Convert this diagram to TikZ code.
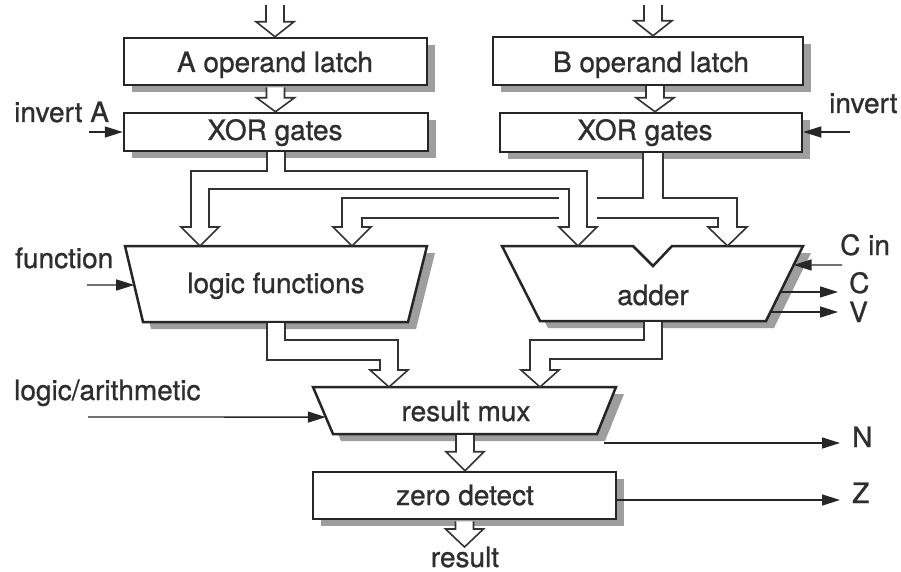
\documentclass[tikz,border=0pt]{standalone}
\usepackage{fontspec}
\setmainfont{TeX Gyre Heros}[BoldFont={TeX Gyre Heros}, BoldFeatures={FakeBold=0.9}]
\usetikzlibrary{arrows.meta,calc,shadows}
\newcommand\hconn[3]{%
  \filldraw[bus] let \p1=(#1), \p2=(#1|-#2) in
    ({\x1-9pt},{\y1-1.2pt}) -- ({\x1-9pt},{\y2+#3}) -- ({\x1-19pt},{\y2+#3}) -- (\x1,\y2)
    -- ({\x1+19pt},{\y2+#3}) -- ({\x1+9pt},{\y2+#3}) -- ({\x1+9pt},{\y1-1.2pt});}
\begin{document}
\begin{tikzpicture}[x=1pt,y=-1pt,
  shad/.style={drop shadow={shadow xshift=8pt, shadow yshift=-7pt, fill=black!38, opacity=1}},
  box/.style={draw=black!85, line width=2.5pt, fill=white, inner sep=0pt, shad},
  trap/.style={draw=black!85, line width=2.5pt, fill=white, line join=miter, shad},
  bus/.style={draw=black!80, line width=1.6pt, fill=white, line join=miter},
  sig/.style={draw=black!85, line width=1.4pt, -{Triangle[length=18pt,width=11pt]}},
  lbl/.style={font=\fontsize{28}{32}\selectfont\bfseries, text=black!82, inner sep=0pt}]
\useasboundingbox[fill=white] (0,0) rectangle (901,572);

% outside labels
\node[lbl, anchor=base west] (invAl) at (14,122) {invert A};
\node[lbl, anchor=base west] (invBl) at (829,113) {invert};
\node[lbl, anchor=base west] (fnl) at (15,268) {function};
\node[lbl, anchor=base west] (lal) at (14,400) {logic/arithmetic};
\node[lbl, anchor=base west] (Cinl) at (840,255) {C in};
\node[lbl, anchor=base west] (Clbl) at (849,293) {C};
\node[lbl, anchor=base west] (Vlbl) at (849,322) {V};
\node[lbl, anchor=base west] (Nlbl) at (852,447) {N};
\node[lbl, anchor=base west] (Zlbl) at (852,503) {Z};
\node[lbl, anchor=base] (resl) at (465,567) {result};

% boxes
\node[box, minimum width=303pt, minimum height=47pt] (alatch) at (275.5,61.5) {};
\node[box, minimum width=304pt, minimum height=38pt] (xora) at (276,132) {};
\node[box, minimum width=310pt, minimum height=48pt] (blatch) at (648,61) {};
\node[box, minimum width=302pt, minimum height=39pt] (xorb) at (651,132.5) {};
\node[box, minimum width=303pt, minimum height=47pt] (zero) at (464.5,495.5) {};

% trapezoids
\path[trap] (143,322) -- coordinate[pos=0.487] (fnE) (125,246) -- (427,246) -- (408,322) -- cycle;
\path[trap] (502,246) -- (633,246) -- (653,266) -- (672,246) -- (803,246)
   -- coordinate[pos=0.253] (cinE) coordinate[pos=0.613] (cE) coordinate[pos=0.88] (vE) (766,321)
   -- (540,321) -- cycle;
\path[trap] (333,434) -- coordinate[pos=0.36] (muxW) (313,387) -- (616,387) -- (597,434) -- cycle;

% B bus (under)
\filldraw[bus] (643,153.2) -- (643,198) -- (342,198) -- (342,227) -- (333,227) -- (352,246) -- (371,227)
   -- (362,227) -- (362,218) -- (718,218) -- (718,227) -- (708,227) -- (727.5,246) -- (747,227)
   -- (737,227) -- (737,198) -- (663,198) -- (663,153.2);
\fill[white] (559,195) rectangle (597,221);
% A bus (over)
\filldraw[bus] (267,152.2) -- (267,171) -- (191,171) -- (191,227) -- (181,227) -- (200,246) -- (219,227)
   -- (209,227) -- (209,189) -- (569,189) -- (569,227) -- (559,227) -- (578,246) -- (597,227)
   -- (587,227) -- (587,171) -- (285,171) -- (285,152.2);
% logic output bus
\filldraw[bus] (267,323.2) -- (267,360) -- (380,360) -- (380,370) -- (370,370) -- (389,387) -- (408,370)
   -- (398,370) -- (398,340) -- (285,340) -- (285,323.2);
% adder output bus
\filldraw[bus] (662,322.2) -- (662,359) -- (550,359) -- (550,370) -- (559,370) -- (540,387) -- (521,370)
   -- (530,370) -- (530,340) -- (644,340) -- (644,322.2);

% hollow arrows
\coordinate (ain) at (275,4);
\coordinate (bin) at (653,4);
\coordinate (bmid) at (655,85);
\coordinate (muxS) at (465,434);
\coordinate (resE) at (465,547);
\hconn{ain}{alatch.north}{15pt}
\hconn{bin}{blatch.north}{15pt}
\hconn{alatch.south}{xora.north}{14pt}
\hconn{bmid}{xorb.north}{14pt}
\hconn{muxS}{zero.north}{19pt}
\hconn{zero.south}{resE}{18pt}

% thin signals
\coordinate (invAs) at (89,132);
\coordinate (invBs) at (850,132);
\coordinate (fns) at (87,285);
\coordinate (las) at (88,417);
\coordinate (cins) at (842,265);
\coordinate (Ns) at (604,443);
\coordinate (Zs) at (616,500);
\draw[sig] (invAs) -- (invAs -| xora.west);
\draw[sig] (invBs) -- (invBs -| xorb.east);
\draw[sig] (fns) -- (fnE);
\draw[sig] (las) -- (muxW);
\draw[sig] (cins) -- (cinE);
\draw[sig, shorten >=11pt] (cE) -- (cE -| Clbl.west);
\draw[sig, shorten >=11pt] (vE) -- (vE -| Vlbl.west);
\draw[sig, shorten >=12pt] (Ns) -- (Ns -| Nlbl.west);
\draw[sig, shorten >=12pt] (Zs) -- (Zs -| Zlbl.west);

% inside labels
\node[lbl, anchor=base] (alatchT) at (275,72) {A operand latch};
\node[lbl, anchor=base] (xoraT) at (275,140) {XOR gates};
\node[lbl, anchor=base] (blatchT) at (651,72) {B operand latch};
\node[lbl, anchor=base] (xorbT) at (645,140) {XOR gates};
\node[lbl, anchor=base] (logicT) at (276,293) {logic functions};
\node[lbl, anchor=base] (adderT) at (653,305) {adder};
\node[lbl, anchor=base] (muxT) at (466,421) {result mux};
\node[lbl, anchor=base] (zeroT) at (465,505) {zero detect};
\end{tikzpicture}
\end{document}
